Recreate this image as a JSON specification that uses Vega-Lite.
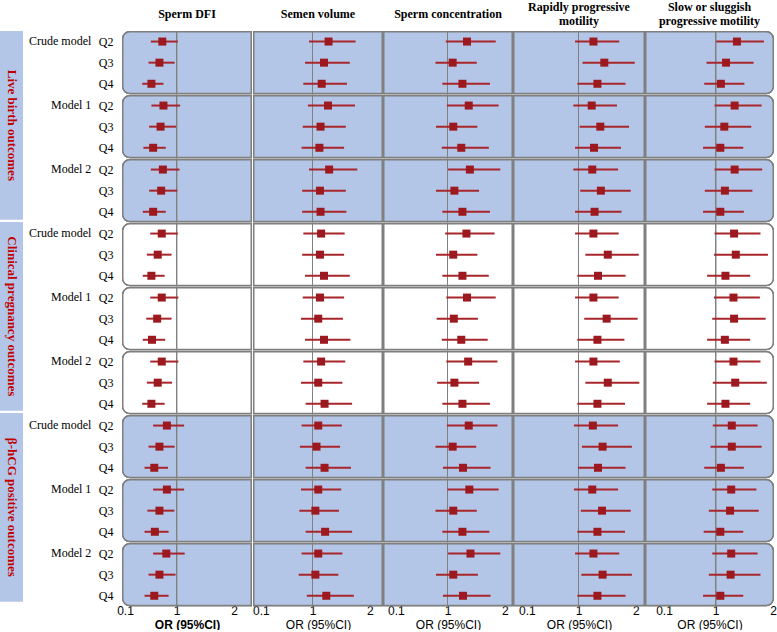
{
  "$schema": "https://vega.github.io/schema/vega-lite/v6.json",
  "padding": {"top": 0, "left": 0, "right": 0, "bottom": 0},
  "background": "white",
  "config": {"view": {"stroke": null}, "font": "Liberation Serif", "axisY": {"minExtent": 0}},
  "datasets": {
    "outcomes": [
      {"name": "Live birth outcomes"},
      {"name": "Clinical pregnancy outcomes"},
      {"name": "β-hCG positive outcomes"}
    ],
    "ordata": [
      {"m":"DFI","o":"LB","md":"Crude model","q":"Q2","or":0.75,"lo":0.55,"hi":1.02},
      {"m":"DFI","o":"LB","md":"Crude model","q":"Q3","or":0.70,"lo":0.51,"hi":0.965},
      {"m":"DFI","o":"LB","md":"Crude model","q":"Q4","or":0.56,"lo":0.40,"hi":0.77},
      {"m":"DFI","o":"LB","md":"Model 1","q":"Q2","or":0.77,"lo":0.56,"hi":1.06},
      {"m":"DFI","o":"LB","md":"Model 1","q":"Q3","or":0.72,"lo":0.52,"hi":0.99},
      {"m":"DFI","o":"LB","md":"Model 1","q":"Q4","or":0.59,"lo":0.42,"hi":0.81},
      {"m":"DFI","o":"LB","md":"Model 2","q":"Q2","or":0.76,"lo":0.55,"hi":1.05},
      {"m":"DFI","o":"LB","md":"Model 2","q":"Q3","or":0.73,"lo":0.52,"hi":1.01},
      {"m":"DFI","o":"LB","md":"Model 2","q":"Q4","or":0.59,"lo":0.41,"hi":0.81},
      {"m":"DFI","o":"CP","md":"Crude model","q":"Q2","or":0.74,"lo":0.54,"hi":1.02},
      {"m":"DFI","o":"CP","md":"Crude model","q":"Q3","or":0.67,"lo":0.48,"hi":0.91},
      {"m":"DFI","o":"CP","md":"Crude model","q":"Q4","or":0.56,"lo":0.41,"hi":0.79},
      {"m":"DFI","o":"CP","md":"Model 1","q":"Q2","or":0.74,"lo":0.54,"hi":1.03},
      {"m":"DFI","o":"CP","md":"Model 1","q":"Q3","or":0.66,"lo":0.47,"hi":0.91},
      {"m":"DFI","o":"CP","md":"Model 1","q":"Q4","or":0.57,"lo":0.41,"hi":0.80},
      {"m":"DFI","o":"CP","md":"Model 2","q":"Q2","or":0.74,"lo":0.54,"hi":1.03},
      {"m":"DFI","o":"CP","md":"Model 2","q":"Q3","or":0.67,"lo":0.48,"hi":0.92},
      {"m":"DFI","o":"CP","md":"Model 2","q":"Q4","or":0.56,"lo":0.40,"hi":0.79},
      {"m":"DFI","o":"HCG","md":"Crude model","q":"Q2","or":0.83,"lo":0.59,"hi":1.13},
      {"m":"DFI","o":"HCG","md":"Crude model","q":"Q3","or":0.70,"lo":0.51,"hi":0.965},
      {"m":"DFI","o":"HCG","md":"Crude model","q":"Q4","or":0.61,"lo":0.44,"hi":0.85},
      {"m":"DFI","o":"HCG","md":"Model 1","q":"Q2","or":0.83,"lo":0.59,"hi":1.13},
      {"m":"DFI","o":"HCG","md":"Model 1","q":"Q3","or":0.70,"lo":0.49,"hi":0.96},
      {"m":"DFI","o":"HCG","md":"Model 1","q":"Q4","or":0.62,"lo":0.44,"hi":0.86},
      {"m":"DFI","o":"HCG","md":"Model 2","q":"Q2","or":0.82,"lo":0.59,"hi":1.14},
      {"m":"DFI","o":"HCG","md":"Model 2","q":"Q3","or":0.70,"lo":0.51,"hi":0.98},
      {"m":"DFI","o":"HCG","md":"Model 2","q":"Q4","or":0.61,"lo":0.44,"hi":0.86},

      {"m":"VOL","o":"LB","md":"Crude model","q":"Q2","or":1.28,"lo":0.94,"hi":1.75},
      {"m":"VOL","o":"LB","md":"Crude model","q":"Q3","or":1.20,"lo":0.87,"hi":1.65},
      {"m":"VOL","o":"LB","md":"Crude model","q":"Q4","or":1.16,"lo":0.84,"hi":1.60},
      {"m":"VOL","o":"LB","md":"Model 1","q":"Q2","or":1.27,"lo":0.92,"hi":1.74},
      {"m":"VOL","o":"LB","md":"Model 1","q":"Q3","or":1.14,"lo":0.83,"hi":1.58},
      {"m":"VOL","o":"LB","md":"Model 1","q":"Q4","or":1.12,"lo":0.81,"hi":1.55},
      {"m":"VOL","o":"LB","md":"Model 2","q":"Q2","or":1.29,"lo":0.94,"hi":1.78},
      {"m":"VOL","o":"LB","md":"Model 2","q":"Q3","or":1.13,"lo":0.82,"hi":1.58},
      {"m":"VOL","o":"LB","md":"Model 2","q":"Q4","or":1.14,"lo":0.82,"hi":1.59},
      {"m":"VOL","o":"CP","md":"Crude model","q":"Q2","or":1.15,"lo":0.84,"hi":1.56},
      {"m":"VOL","o":"CP","md":"Crude model","q":"Q3","or":1.13,"lo":0.82,"hi":1.55},
      {"m":"VOL","o":"CP","md":"Crude model","q":"Q4","or":1.20,"lo":0.87,"hi":1.65},
      {"m":"VOL","o":"CP","md":"Model 1","q":"Q2","or":1.13,"lo":0.83,"hi":1.55},
      {"m":"VOL","o":"CP","md":"Model 1","q":"Q3","or":1.10,"lo":0.80,"hi":1.53},
      {"m":"VOL","o":"CP","md":"Model 1","q":"Q4","or":1.20,"lo":0.87,"hi":1.66},
      {"m":"VOL","o":"CP","md":"Model 2","q":"Q2","or":1.15,"lo":0.84,"hi":1.57},
      {"m":"VOL","o":"CP","md":"Model 2","q":"Q3","or":1.10,"lo":0.80,"hi":1.52},
      {"m":"VOL","o":"CP","md":"Model 2","q":"Q4","or":1.21,"lo":0.88,"hi":1.69},
      {"m":"VOL","o":"HCG","md":"Crude model","q":"Q2","or":1.10,"lo":0.81,"hi":1.51},
      {"m":"VOL","o":"HCG","md":"Crude model","q":"Q3","or":1.07,"lo":0.78,"hi":1.48},
      {"m":"VOL","o":"HCG","md":"Crude model","q":"Q4","or":1.21,"lo":0.88,"hi":1.67},
      {"m":"VOL","o":"HCG","md":"Model 1","q":"Q2","or":1.10,"lo":0.80,"hi":1.50},
      {"m":"VOL","o":"HCG","md":"Model 1","q":"Q3","or":1.05,"lo":0.77,"hi":1.46},
      {"m":"VOL","o":"HCG","md":"Model 1","q":"Q4","or":1.22,"lo":0.88,"hi":1.69},
      {"m":"VOL","o":"HCG","md":"Model 2","q":"Q2","or":1.10,"lo":0.81,"hi":1.52},
      {"m":"VOL","o":"HCG","md":"Model 2","q":"Q3","or":1.05,"lo":0.76,"hi":1.45},
      {"m":"VOL","o":"HCG","md":"Model 2","q":"Q4","or":1.24,"lo":0.90,"hi":1.72},

      {"m":"CONC","o":"LB","md":"Crude model","q":"Q2","or":1.34,"lo":0.97,"hi":1.84},
      {"m":"CONC","o":"LB","md":"Crude model","q":"Q3","or":1.09,"lo":0.79,"hi":1.51},
      {"m":"CONC","o":"LB","md":"Crude model","q":"Q4","or":1.26,"lo":0.91,"hi":1.74},
      {"m":"CONC","o":"LB","md":"Model 1","q":"Q2","or":1.37,"lo":0.99,"hi":1.89},
      {"m":"CONC","o":"LB","md":"Model 1","q":"Q3","or":1.10,"lo":0.80,"hi":1.52},
      {"m":"CONC","o":"LB","md":"Model 1","q":"Q4","or":1.24,"lo":0.90,"hi":1.72},
      {"m":"CONC","o":"LB","md":"Model 2","q":"Q2","or":1.39,"lo":1.01,"hi":1.92},
      {"m":"CONC","o":"LB","md":"Model 2","q":"Q3","or":1.12,"lo":0.80,"hi":1.55},
      {"m":"CONC","o":"LB","md":"Model 2","q":"Q4","or":1.26,"lo":0.91,"hi":1.74},
      {"m":"CONC","o":"CP","md":"Crude model","q":"Q2","or":1.33,"lo":0.96,"hi":1.82},
      {"m":"CONC","o":"CP","md":"Crude model","q":"Q3","or":1.10,"lo":0.80,"hi":1.52},
      {"m":"CONC","o":"CP","md":"Crude model","q":"Q4","or":1.26,"lo":0.91,"hi":1.72},
      {"m":"CONC","o":"CP","md":"Model 1","q":"Q2","or":1.34,"lo":0.98,"hi":1.84},
      {"m":"CONC","o":"CP","md":"Model 1","q":"Q3","or":1.11,"lo":0.81,"hi":1.53},
      {"m":"CONC","o":"CP","md":"Model 1","q":"Q4","or":1.24,"lo":0.90,"hi":1.70},
      {"m":"CONC","o":"CP","md":"Model 2","q":"Q2","or":1.36,"lo":0.98,"hi":1.87},
      {"m":"CONC","o":"CP","md":"Model 2","q":"Q3","or":1.12,"lo":0.82,"hi":1.55},
      {"m":"CONC","o":"CP","md":"Model 2","q":"Q4","or":1.26,"lo":0.91,"hi":1.74},
      {"m":"CONC","o":"HCG","md":"Crude model","q":"Q2","or":1.37,"lo":0.99,"hi":1.87},
      {"m":"CONC","o":"HCG","md":"Crude model","q":"Q3","or":1.09,"lo":0.79,"hi":1.50},
      {"m":"CONC","o":"HCG","md":"Crude model","q":"Q4","or":1.27,"lo":0.92,"hi":1.75},
      {"m":"CONC","o":"HCG","md":"Model 1","q":"Q2","or":1.38,"lo":1.00,"hi":1.89},
      {"m":"CONC","o":"HCG","md":"Model 1","q":"Q3","or":1.10,"lo":0.79,"hi":1.51},
      {"m":"CONC","o":"HCG","md":"Model 1","q":"Q4","or":1.26,"lo":0.91,"hi":1.73},
      {"m":"CONC","o":"HCG","md":"Model 2","q":"Q2","or":1.40,"lo":1.01,"hi":1.92},
      {"m":"CONC","o":"HCG","md":"Model 2","q":"Q3","or":1.10,"lo":0.80,"hi":1.53},
      {"m":"CONC","o":"HCG","md":"Model 2","q":"Q4","or":1.27,"lo":0.92,"hi":1.75},

      {"m":"RAPID","o":"LB","md":"Crude model","q":"Q2","or":1.26,"lo":0.94,"hi":1.71},
      {"m":"RAPID","o":"LB","md":"Crude model","q":"Q3","or":1.45,"lo":1.07,"hi":1.98},
      {"m":"RAPID","o":"LB","md":"Crude model","q":"Q4","or":1.33,"lo":0.98,"hi":1.82},
      {"m":"RAPID","o":"LB","md":"Model 1","q":"Q2","or":1.23,"lo":0.91,"hi":1.67},
      {"m":"RAPID","o":"LB","md":"Model 1","q":"Q3","or":1.38,"lo":1.02,"hi":1.88},
      {"m":"RAPID","o":"LB","md":"Model 1","q":"Q4","or":1.27,"lo":0.94,"hi":1.74},
      {"m":"RAPID","o":"LB","md":"Model 2","q":"Q2","or":1.24,"lo":0.91,"hi":1.69},
      {"m":"RAPID","o":"LB","md":"Model 2","q":"Q3","or":1.39,"lo":1.03,"hi":1.91},
      {"m":"RAPID","o":"LB","md":"Model 2","q":"Q4","or":1.28,"lo":0.94,"hi":1.75},
      {"m":"RAPID","o":"CP","md":"Crude model","q":"Q2","or":1.26,"lo":0.94,"hi":1.70},
      {"m":"RAPID","o":"CP","md":"Crude model","q":"Q3","or":1.51,"lo":1.12,"hi":2.05},
      {"m":"RAPID","o":"CP","md":"Crude model","q":"Q4","or":1.34,"lo":0.98,"hi":1.82},
      {"m":"RAPID","o":"CP","md":"Model 1","q":"Q2","or":1.26,"lo":0.94,"hi":1.70},
      {"m":"RAPID","o":"CP","md":"Model 1","q":"Q3","or":1.49,"lo":1.10,"hi":2.03},
      {"m":"RAPID","o":"CP","md":"Model 1","q":"Q4","or":1.33,"lo":0.98,"hi":1.80},
      {"m":"RAPID","o":"CP","md":"Model 2","q":"Q2","or":1.26,"lo":0.94,"hi":1.72},
      {"m":"RAPID","o":"CP","md":"Model 2","q":"Q3","or":1.51,"lo":1.12,"hi":2.06},
      {"m":"RAPID","o":"CP","md":"Model 2","q":"Q4","or":1.33,"lo":0.98,"hi":1.81},
      {"m":"RAPID","o":"HCG","md":"Crude model","q":"Q2","or":1.25,"lo":0.92,"hi":1.69},
      {"m":"RAPID","o":"HCG","md":"Crude model","q":"Q3","or":1.42,"lo":1.06,"hi":1.93},
      {"m":"RAPID","o":"HCG","md":"Crude model","q":"Q4","or":1.34,"lo":0.99,"hi":1.82},
      {"m":"RAPID","o":"HCG","md":"Model 1","q":"Q2","or":1.24,"lo":0.92,"hi":1.69},
      {"m":"RAPID","o":"HCG","md":"Model 1","q":"Q3","or":1.41,"lo":1.04,"hi":1.91},
      {"m":"RAPID","o":"HCG","md":"Model 1","q":"Q4","or":1.33,"lo":0.98,"hi":1.81},
      {"m":"RAPID","o":"HCG","md":"Model 2","q":"Q2","or":1.26,"lo":0.94,"hi":1.71},
      {"m":"RAPID","o":"HCG","md":"Model 2","q":"Q3","or":1.42,"lo":1.05,"hi":1.93},
      {"m":"RAPID","o":"HCG","md":"Model 2","q":"Q4","or":1.33,"lo":0.98,"hi":1.82},

      {"m":"SLOW","o":"LB","md":"Crude model","q":"Q2","or":1.37,"lo":1.01,"hi":1.84},
      {"m":"SLOW","o":"LB","md":"Crude model","q":"Q3","or":1.18,"lo":0.84,"hi":1.66},
      {"m":"SLOW","o":"LB","md":"Crude model","q":"Q4","or":1.09,"lo":0.80,"hi":1.50},
      {"m":"SLOW","o":"LB","md":"Model 1","q":"Q2","or":1.33,"lo":0.98,"hi":1.80},
      {"m":"SLOW","o":"LB","md":"Model 1","q":"Q3","or":1.15,"lo":0.81,"hi":1.62},
      {"m":"SLOW","o":"LB","md":"Model 1","q":"Q4","or":1.08,"lo":0.78,"hi":1.48},
      {"m":"SLOW","o":"LB","md":"Model 2","q":"Q2","or":1.33,"lo":0.98,"hi":1.81},
      {"m":"SLOW","o":"LB","md":"Model 2","q":"Q3","or":1.16,"lo":0.81,"hi":1.64},
      {"m":"SLOW","o":"LB","md":"Model 2","q":"Q4","or":1.08,"lo":0.78,"hi":1.49},
      {"m":"SLOW","o":"CP","md":"Crude model","q":"Q2","or":1.32,"lo":0.98,"hi":1.78},
      {"m":"SLOW","o":"CP","md":"Crude model","q":"Q3","or":1.35,"lo":0.97,"hi":1.91},
      {"m":"SLOW","o":"CP","md":"Crude model","q":"Q4","or":1.17,"lo":0.85,"hi":1.60},
      {"m":"SLOW","o":"CP","md":"Model 1","q":"Q2","or":1.31,"lo":0.97,"hi":1.77},
      {"m":"SLOW","o":"CP","md":"Model 1","q":"Q3","or":1.32,"lo":0.94,"hi":1.87},
      {"m":"SLOW","o":"CP","md":"Model 1","q":"Q4","or":1.16,"lo":0.85,"hi":1.60},
      {"m":"SLOW","o":"CP","md":"Model 2","q":"Q2","or":1.31,"lo":0.98,"hi":1.78},
      {"m":"SLOW","o":"CP","md":"Model 2","q":"Q3","or":1.34,"lo":0.95,"hi":1.89},
      {"m":"SLOW","o":"CP","md":"Model 2","q":"Q4","or":1.17,"lo":0.85,"hi":1.60},
      {"m":"SLOW","o":"HCG","md":"Crude model","q":"Q2","or":1.28,"lo":0.95,"hi":1.73},
      {"m":"SLOW","o":"HCG","md":"Crude model","q":"Q3","or":1.28,"lo":0.91,"hi":1.80},
      {"m":"SLOW","o":"HCG","md":"Crude model","q":"Q4","or":1.09,"lo":0.80,"hi":1.49},
      {"m":"SLOW","o":"HCG","md":"Model 1","q":"Q2","or":1.27,"lo":0.94,"hi":1.71},
      {"m":"SLOW","o":"HCG","md":"Model 1","q":"Q3","or":1.25,"lo":0.88,"hi":1.75},
      {"m":"SLOW","o":"HCG","md":"Model 1","q":"Q4","or":1.08,"lo":0.79,"hi":1.48},
      {"m":"SLOW","o":"HCG","md":"Model 2","q":"Q2","or":1.27,"lo":0.94,"hi":1.73},
      {"m":"SLOW","o":"HCG","md":"Model 2","q":"Q3","or":1.26,"lo":0.88,"hi":1.78},
      {"m":"SLOW","o":"HCG","md":"Model 2","q":"Q4","or":1.08,"lo":0.78,"hi":1.48}
    ]
  },
  "spacing": 0,
  "hconcat": [
    {
      "data": {"name": "outcomes"},
      "title": {"text": "\u00a0", "orient": "right", "fontSize": 6, "offset": 0},
      "facet": {"row": {"field": "name", "type": "nominal", "sort": ["Live birth outcomes", "Clinical pregnancy outcomes", "β-hCG positive outcomes"], "header": {"labels": false, "title": null}}},
      "spacing": 2,
      "spec": {
        "width": 23,
        "height": 188.67,
        "layer": [
          {"mark": {"type": "rect", "fill": "#b4c6e7"}, "encoding": {}},
          {"mark": {"type": "text", "angle": 90, "font": "Liberation Serif", "fontSize": 13, "fontWeight": "bold", "color": "#c00000"}, "encoding": {"text": {"field": "name"}}}
        ]
      }
    },
    {
      "data": {"name": "ordata"},
      "transform": [{"filter": "datum.m === 'DFI'"}, {"calculate": "datum.o + '|' + datum.md", "as": "grp"}],
      "title": {"text": "Sperm DFI", "font": "Liberation Serif", "fontSize": 12, "fontWeight": "bold", "color": "black", "anchor": "start", "align": "center", "dx": 65, "frame": "group", "baseline": "bottom", "offset": -2},
      "bounds": "flush",
      "facet": {"row": {"field": "grp", "type": "nominal", "sort": ["LB|Crude model","LB|Model 1","LB|Model 2","CP|Crude model","CP|Model 1","CP|Model 2","HCG|Crude model","HCG|Model 1","HCG|Model 2"],
        "header": {"title": null, "labelAngle": 0, "labelAlign": "left", "labelAnchor": "end", "labelBaseline": "line-top", "labelLineHeight": 21, "labelFont": "Liberation Serif", "labelFontSize": 12, "labelColor": "black", "labelPadding": 7, "labelExpr": "split(datum.value, '|')[1]"}}},
      "spacing": 0,
      "spec": {
        "width": 130,
        "height": 63.33,
        "layer": [
          {"mark": {"type": "rect", "stroke": "#7f7f7f", "strokeWidth": 1.5, "cornerRadiusTopLeft": 7, "cornerRadiusBottomLeft": 7, "yOffset": -9.8, "y2Offset": 9.8},
           "encoding": {"x": {"datum": 0.0608}, "x2": {"datum": 2.2994}, "y": {"datum": "Q2"}, "y2": {"datum": "Q4"},
             "fill": {"field": "o", "type": "nominal", "scale": {"domain": ["LB","CP","HCG"], "range": ["#b4c6e7","#ffffff","#b4c6e7"]}, "legend": null}}},
          {"mark": {"type": "rule", "color": "#808080", "strokeWidth": 1, "yOffset": -10.55, "y2Offset": 10.55}, "encoding": {"x": {"datum": 1}, "y": {"datum": "Q2"}, "y2": {"datum": "Q4"}}},
          {"mark": {"type": "rule", "color": "#a8262b", "strokeWidth": 2},
           "encoding": {"x": {"field": "lo", "type": "quantitative", "scale": {"domain": [0.0477, 2.3125], "nice": false, "zero": false},
               "axis": {"values": [0.1, 1, 2], "format": "~g", "ticks": false, "domain": false, "grid": false, "labelFont": "Liberation Sans", "labelFontSize": 12, "labelColor": "black", "labelPadding": -2, "labelFlush": false, "labelOverlap": false, "title": "OR (95%CI)", "titleFont": "Liberation Sans", "titleFontSize": 12, "titleFontWeight": "bold", "titleColor": "black", "titlePadding": 3}},
             "x2": {"field": "hi"},
             "y": {"field": "q", "type": "nominal", "scale": {"type": "point", "padding": 0.5, "domain": ["Q2","Q3","Q4"]},
               "axis": {"title": null, "ticks": false, "domain": false, "grid": false, "labelFont": "Liberation Serif", "labelFontSize": 12, "labelColor": "black", "labelPadding": 9}}}},
          {"mark": {"type": "point", "shape": "square", "filled": true, "size": 64, "color": "#9c1a1f", "opacity": 1},
           "encoding": {"x": {"field": "or", "type": "quantitative"}, "y": {"field": "q", "type": "nominal"}}}
        ]
      }
    },
    {
      "data": {"name": "ordata"},
      "transform": [{"filter": "datum.m === 'VOL'"}, {"calculate": "datum.o + '|' + datum.md", "as": "grp"}],
      "title": {"text": "Semen volume", "font": "Liberation Serif", "fontSize": 12, "fontWeight": "bold", "color": "black", "anchor": "start", "align": "center", "dx": 65, "frame": "group", "baseline": "bottom", "offset": -2},
      "bounds": "flush",
      "facet": {"row": {"field": "grp", "type": "nominal", "sort": ["LB|Crude model","LB|Model 1","LB|Model 2","CP|Crude model","CP|Model 1","CP|Model 2","HCG|Crude model","HCG|Model 1","HCG|Model 2"], "header": {"labels": false, "title": null}}},
      "spacing": 0,
      "spec": {
        "width": 130,
        "height": 63.33,
        "layer": [
          {"mark": {"type": "rect", "stroke": "#7f7f7f", "strokeWidth": 1.5, "yOffset": -9.8, "y2Offset": 9.8},
           "encoding": {"x": {"datum": -0.0235}, "x2": {"datum": 2.2149}, "y": {"datum": "Q2"}, "y2": {"datum": "Q4"},
             "fill": {"field": "o", "type": "nominal", "scale": {"domain": ["LB","CP","HCG"], "range": ["#b4c6e7","#ffffff","#b4c6e7"]}, "legend": null}}},
          {"mark": {"type": "rule", "color": "#808080", "strokeWidth": 1, "yOffset": -10.55, "y2Offset": 10.55}, "encoding": {"x": {"datum": 1}, "y": {"datum": "Q2"}, "y2": {"datum": "Q4"}}},
          {"mark": {"type": "rule", "color": "#a8262b", "strokeWidth": 2},
           "encoding": {"x": {"field": "lo", "type": "quantitative", "scale": {"domain": [-0.0366, 2.228], "nice": false, "zero": false},
               "axis": {"values": [0.1, 1, 2], "format": "~g", "ticks": false, "domain": false, "grid": false, "labelFont": "Liberation Sans", "labelFontSize": 12, "labelColor": "black", "labelPadding": -2, "labelFlush": false, "labelOverlap": false, "title": "OR (95%CI)", "titleFont": "Liberation Sans", "titleFontSize": 12, "titleFontWeight": "normal", "titleColor": "black", "titlePadding": 3}},
             "x2": {"field": "hi"},
             "y": {"field": "q", "type": "nominal", "scale": {"type": "point", "padding": 0.5, "domain": ["Q2","Q3","Q4"]}, "axis": {"labels": false, "ticks": false, "domain": false, "grid": false, "title": null, "minExtent": 0, "maxExtent": 0, "labelPadding": 0, "offset": 0}}}},
          {"mark": {"type": "point", "shape": "square", "filled": true, "size": 64, "color": "#9c1a1f", "opacity": 1},
           "encoding": {"x": {"field": "or", "type": "quantitative"}, "y": {"field": "q", "type": "nominal"}}}
        ]
      }
    },
    {
      "data": {"name": "ordata"},
      "transform": [{"filter": "datum.m === 'CONC'"}, {"calculate": "datum.o + '|' + datum.md", "as": "grp"}],
      "title": {"text": "Sperm concentration", "font": "Liberation Serif", "fontSize": 12, "fontWeight": "bold", "color": "black", "anchor": "start", "align": "center", "dx": 65, "frame": "group", "baseline": "bottom", "offset": -2},
      "bounds": "flush",
      "facet": {"row": {"field": "grp", "type": "nominal", "sort": ["LB|Crude model","LB|Model 1","LB|Model 2","CP|Crude model","CP|Model 1","CP|Model 2","HCG|Crude model","HCG|Model 1","HCG|Model 2"], "header": {"labels": false, "title": null}}},
      "spacing": 0,
      "spec": {
        "width": 130,
        "height": 63.33,
        "layer": [
          {"mark": {"type": "rect", "stroke": "#7f7f7f", "strokeWidth": 1.5, "yOffset": -9.8, "y2Offset": 9.8},
           "encoding": {"x": {"datum": -0.1106}, "x2": {"datum": 2.128}, "y": {"datum": "Q2"}, "y2": {"datum": "Q4"},
             "fill": {"field": "o", "type": "nominal", "scale": {"domain": ["LB","CP","HCG"], "range": ["#b4c6e7","#ffffff","#b4c6e7"]}, "legend": null}}},
          {"mark": {"type": "rule", "color": "#808080", "strokeWidth": 1, "yOffset": -10.55, "y2Offset": 10.55}, "encoding": {"x": {"datum": 1}, "y": {"datum": "Q2"}, "y2": {"datum": "Q4"}}},
          {"mark": {"type": "rule", "color": "#a8262b", "strokeWidth": 2},
           "encoding": {"x": {"field": "lo", "type": "quantitative", "scale": {"domain": [-0.1237, 2.1411], "nice": false, "zero": false},
               "axis": {"values": [0.1, 1, 2], "format": "~g", "ticks": false, "domain": false, "grid": false, "labelFont": "Liberation Sans", "labelFontSize": 12, "labelColor": "black", "labelPadding": -2, "labelFlush": false, "labelOverlap": false, "title": "OR (95%CI)", "titleFont": "Liberation Sans", "titleFontSize": 12, "titleFontWeight": "normal", "titleColor": "black", "titlePadding": 3}},
             "x2": {"field": "hi"},
             "y": {"field": "q", "type": "nominal", "scale": {"type": "point", "padding": 0.5, "domain": ["Q2","Q3","Q4"]}, "axis": {"labels": false, "ticks": false, "domain": false, "grid": false, "title": null, "minExtent": 0, "maxExtent": 0, "labelPadding": 0, "offset": 0}}}},
          {"mark": {"type": "point", "shape": "square", "filled": true, "size": 64, "color": "#9c1a1f", "opacity": 1},
           "encoding": {"x": {"field": "or", "type": "quantitative"}, "y": {"field": "q", "type": "nominal"}}}
        ]
      }
    },
    {
      "data": {"name": "ordata"},
      "transform": [{"filter": "datum.m === 'RAPID'"}, {"calculate": "datum.o + '|' + datum.md", "as": "grp"}],
      "title": {"text": "Rapidly progressive", "subtitle": "motility", "font": "Liberation Serif", "fontSize": 12, "fontWeight": "bold", "color": "black", "subtitleFont": "Liberation Serif", "subtitleFontSize": 12, "subtitleFontWeight": "bold", "subtitleColor": "black", "subtitlePadding": 2, "anchor": "start", "align": "center", "dx": 66, "frame": "group", "baseline": "bottom", "offset": -9},
      "bounds": "flush",
      "facet": {"row": {"field": "grp", "type": "nominal", "sort": ["LB|Crude model","LB|Model 1","LB|Model 2","CP|Crude model","CP|Model 1","CP|Model 2","HCG|Crude model","HCG|Model 1","HCG|Model 2"], "header": {"labels": false, "title": null}}},
      "spacing": 0,
      "spec": {
        "width": 132,
        "height": 63.33,
        "layer": [
          {"mark": {"type": "rect", "stroke": "#7f7f7f", "strokeWidth": 1.5, "yOffset": -9.8, "y2Offset": 9.8},
           "encoding": {"x": {"datum": -0.1279}, "x2": {"datum": 2.1455}, "y": {"datum": "Q2"}, "y2": {"datum": "Q4"},
             "fill": {"field": "o", "type": "nominal", "scale": {"domain": ["LB","CP","HCG"], "range": ["#b4c6e7","#ffffff","#b4c6e7"]}, "legend": null}}},
          {"mark": {"type": "rule", "color": "#808080", "strokeWidth": 1, "yOffset": -10.55, "y2Offset": 10.55}, "encoding": {"x": {"datum": 1}, "y": {"datum": "Q2"}, "y2": {"datum": "Q4"}}},
          {"mark": {"type": "rule", "color": "#a8262b", "strokeWidth": 2},
           "encoding": {"x": {"field": "lo", "type": "quantitative", "scale": {"domain": [-0.141, 2.1586], "nice": false, "zero": false},
               "axis": {"values": [0.1, 1, 2], "format": "~g", "ticks": false, "domain": false, "grid": false, "labelFont": "Liberation Sans", "labelFontSize": 12, "labelColor": "black", "labelPadding": -2, "labelFlush": false, "labelOverlap": false, "title": "OR (95%CI)", "titleFont": "Liberation Sans", "titleFontSize": 12, "titleFontWeight": "normal", "titleColor": "black", "titlePadding": 3}},
             "x2": {"field": "hi"},
             "y": {"field": "q", "type": "nominal", "scale": {"type": "point", "padding": 0.5, "domain": ["Q2","Q3","Q4"]}, "axis": {"labels": false, "ticks": false, "domain": false, "grid": false, "title": null, "minExtent": 0, "maxExtent": 0, "labelPadding": 0, "offset": 0}}}},
          {"mark": {"type": "point", "shape": "square", "filled": true, "size": 64, "color": "#9c1a1f", "opacity": 1},
           "encoding": {"x": {"field": "or", "type": "quantitative"}, "y": {"field": "q", "type": "nominal"}}}
        ]
      }
    },
    {
      "data": {"name": "ordata"},
      "transform": [{"filter": "datum.m === 'SLOW'"}, {"calculate": "datum.o + '|' + datum.md", "as": "grp"}],
      "title": {"text": "Slow or sluggish", "subtitle": "progressive motility", "font": "Liberation Serif", "fontSize": 12, "fontWeight": "bold", "color": "black", "subtitleFont": "Liberation Serif", "subtitleFontSize": 12, "subtitleFontWeight": "bold", "subtitleColor": "black", "subtitlePadding": 2, "anchor": "start", "align": "center", "dx": 64.5, "frame": "group", "baseline": "bottom", "offset": -9},
      "bounds": "flush",
      "facet": {"row": {"field": "grp", "type": "nominal", "sort": ["LB|Crude model","LB|Model 1","LB|Model 2","CP|Crude model","CP|Model 1","CP|Model 2","HCG|Crude model","HCG|Model 1","HCG|Model 2"], "header": {"labels": false, "title": null}}},
      "spacing": 0,
      "spec": {
        "width": 129,
        "height": 63.33,
        "layer": [
          {"mark": {"type": "rect", "stroke": "#7f7f7f", "strokeWidth": 1.5, "cornerRadiusTopRight": 7, "cornerRadiusBottomRight": 7, "yOffset": -9.8, "y2Offset": 9.8},
           "encoding": {"x": {"datum": -0.2186}, "x2": {"datum": 2.0026}, "y": {"datum": "Q2"}, "y2": {"datum": "Q4"},
             "fill": {"field": "o", "type": "nominal", "scale": {"domain": ["LB","CP","HCG"], "range": ["#b4c6e7","#ffffff","#b4c6e7"]}, "legend": null}}},
          {"mark": {"type": "rule", "color": "#808080", "strokeWidth": 1, "yOffset": -10.55, "y2Offset": 10.55}, "encoding": {"x": {"datum": 1}, "y": {"datum": "Q2"}, "y2": {"datum": "Q4"}}},
          {"mark": {"type": "rule", "color": "#a8262b", "strokeWidth": 2},
           "encoding": {"x": {"field": "lo", "type": "quantitative", "scale": {"domain": [-0.2317, 2.0157], "nice": false, "zero": false},
               "axis": {"values": [0.1, 1, 2], "format": "~g", "ticks": false, "domain": false, "grid": false, "labelFont": "Liberation Sans", "labelFontSize": 12, "labelColor": "black", "labelPadding": -2, "labelFlush": false, "labelOverlap": false, "title": "OR (95%CI)", "titleFont": "Liberation Sans", "titleFontSize": 12, "titleFontWeight": "normal", "titleColor": "black", "titlePadding": 3}},
             "x2": {"field": "hi"},
             "y": {"field": "q", "type": "nominal", "scale": {"type": "point", "padding": 0.5, "domain": ["Q2","Q3","Q4"]}, "axis": {"labels": false, "ticks": false, "domain": false, "grid": false, "title": null, "minExtent": 0, "maxExtent": 0, "labelPadding": 0, "offset": 0}}}},
          {"mark": {"type": "point", "shape": "square", "filled": true, "size": 64, "color": "#9c1a1f", "opacity": 1},
           "encoding": {"x": {"field": "or", "type": "quantitative"}, "y": {"field": "q", "type": "nominal"}}}
        ]
      }
    }
  ]
}
